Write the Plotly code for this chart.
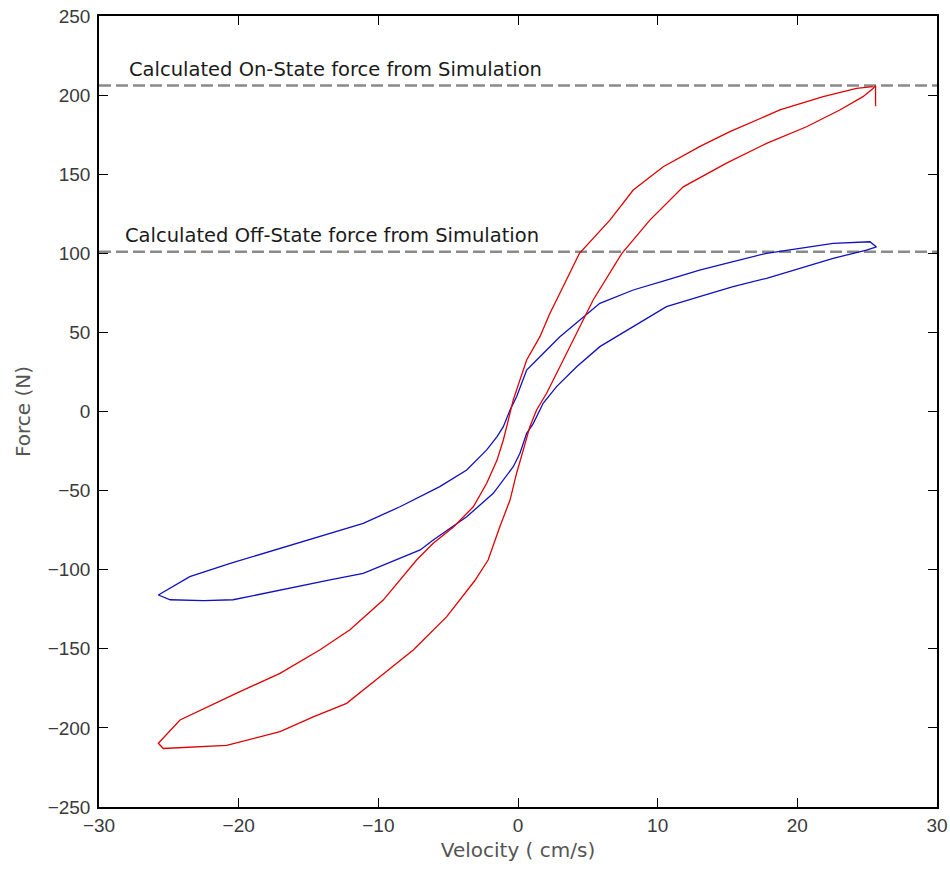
import plotly.graph_objects as go

# Measured damper force vs. piston velocity, traced around each hysteresis loop
# (upper branch from the right tip to the left tip, then lower branch back)
on_velocity = [25.4, 24.24, 21.85, 18.75, 15.17, 13.0, 10.4, 8.25, 6.58, 4.4, 2.76, 2.28,
               1.57, 0.62, 0.14, -0.34, -0.81, -1.05, -1.5, -2.24, -3.2, -4.6, -6.07,
               -7.26, -9.65, -12.03, -14.2, -17.04, -20.14, -24.2, -25.75,
               -25.4, -20.86, -17.04, -14.66, -12.27, -9.89, -7.5, -5.1, -4.16, -3.1,
               -2.14, -1.3, -0.57, -0.1, 0.38, 0.85, 1.33, 2.05, 3.0, 3.95, 4.67, 5.38,
               7.44, 9.44, 11.83, 14.93, 17.8, 20.66, 23.04, 24.7, 25.4, 25.6, 25.6]
on_force = [205.3, 204.3, 199.0, 190.6, 176.9, 167.4, 154.7, 140.0, 121.0, 100.0, 70.5, 62.0,
            47.3, 32.6, 20.0, 7.3, -9.6, -18.0, -30.7, -45.4, -60.2, -72.8, -83.3,
            -93.9, -119.2, -138.0, -150.8, -165.5, -178.0, -195.0, -209.7,
            -213.0, -211.0, -202.4, -193.0, -184.5, -167.6, -150.8, -129.7, -119.0, -107.0,
            -93.9, -72.8, -56.0, -39.0, -24.3, -9.6, 1.0, 11.5, 28.3, 45.2, 57.8, 70.5,
            100.0, 121.0, 142.0, 157.0, 169.5, 180.0, 190.6, 199.0, 204.0, 206.0, 193.0]

off_velocity = [25.67, 25.2, 22.56, 20.2, 17.8, 15.4, 13.0, 10.63, 8.25, 5.86, 4.43, 3.0,
                1.57, 0.62, -0.1, -0.57, -1.05, -1.5, -2.24, -3.67, -5.6, -8.45, -11.08,
                -13.46, -15.85, -18.24, -20.6, -23.5, -25.75,
                -24.9, -22.5, -20.4, -18.24, -15.85, -13.46, -11.08, -8.69, -7.0, -6.07,
                -3.67, -1.77, -0.34, 0.14, 0.62, 1.1, 1.8, 2.76, 4.2, 5.86, 8.25, 10.63,
                13.0, 15.4, 17.8, 20.2, 22.56, 24.95, 25.67]
off_force = [104.0, 107.3, 106.3, 103.0, 100.0, 94.7, 89.4, 83.0, 76.8, 68.4, 57.8, 47.3,
             34.6, 26.2, 9.3, 1.0, -9.6, -15.9, -24.3, -37.0, -47.5, -60.2, -70.7,
             -77.0, -83.3, -89.7, -96.0, -104.4, -116.0,
             -119.0, -119.5, -119.0, -115.0, -110.7, -106.5, -102.3, -93.9, -87.5, -81.2,
             -66.5, -51.7, -34.9, -26.4, -13.8, -7.5, 5.2, 15.7, 28.3, 41.0, 53.5, 66.3,
             72.6, 78.9, 84.2, 90.5, 96.8, 102.0, 104.0]

# Simulated force levels
on_state_force = 206
off_state_force = 101
reference_span = [-30, 30]

x_ticks = [-30, -20, -10, 0, 10, 20, 30]
y_ticks = [-250, -200, -150, -100, -50, 0, 50, 100, 150, 200, 250]

fig = go.Figure()

for level in (on_state_force, off_state_force):
    fig.add_trace(go.Scatter(
        x=reference_span, y=[level, level], mode="lines",
        line=dict(color="#8a8a8a", width=2.5, dash="12px,5px"),
        hoverinfo="skip", showlegend=False,
    ))

fig.add_trace(go.Scatter(x=off_velocity, y=off_force, mode="lines",
                         line=dict(color="#1010c0", width=1.3), showlegend=False))
fig.add_trace(go.Scatter(x=on_velocity, y=on_force, mode="lines",
                         line=dict(color="#e00000", width=1.3), showlegend=False))

label_font = dict(family="DejaVu Sans", size=19.5, color="#1a1a1a")
fig.add_annotation(x=-28.0, y=on_state_force, text="Calculated On-State force from Simulation",
                   xanchor="left", yanchor="bottom", yshift=3, showarrow=False, font=label_font)
fig.add_annotation(x=-28.3, y=off_state_force, text="Calculated Off-State force from Simulation",
                   xanchor="left", yanchor="bottom", yshift=3, showarrow=False, font=label_font)

axis_common = dict(
    showgrid=False, zeroline=False, showline=True, linecolor="#000000", linewidth=1.5,
    mirror="allticks", ticks="inside", ticklen=9, tickwidth=1.3, tickcolor="#000000",
    tickfont=dict(family="Liberation Sans", size=19, color="#3a3a3a"),
    automargin=False,
)

title_font = dict(family="DejaVu Sans", size=20, color="#555555")
fig.update_xaxes(range=[-30, 30], tickvals=x_ticks,
                 title=dict(text="Velocity ( cm/s)", standoff=8, font=title_font),
                 **axis_common)
fig.update_yaxes(range=[-250, 250], tickvals=y_ticks, ticklabelstandoff=3,
                 title=dict(text="Force (N)", standoff=12, font=title_font),
                 **axis_common)

fig.update_layout(
    width=950, height=869,
    margin=dict(l=99, r=13, t=16, b=62, autoexpand=False),
    paper_bgcolor="white", plot_bgcolor="white",
)

fig.write_html("out.html")
